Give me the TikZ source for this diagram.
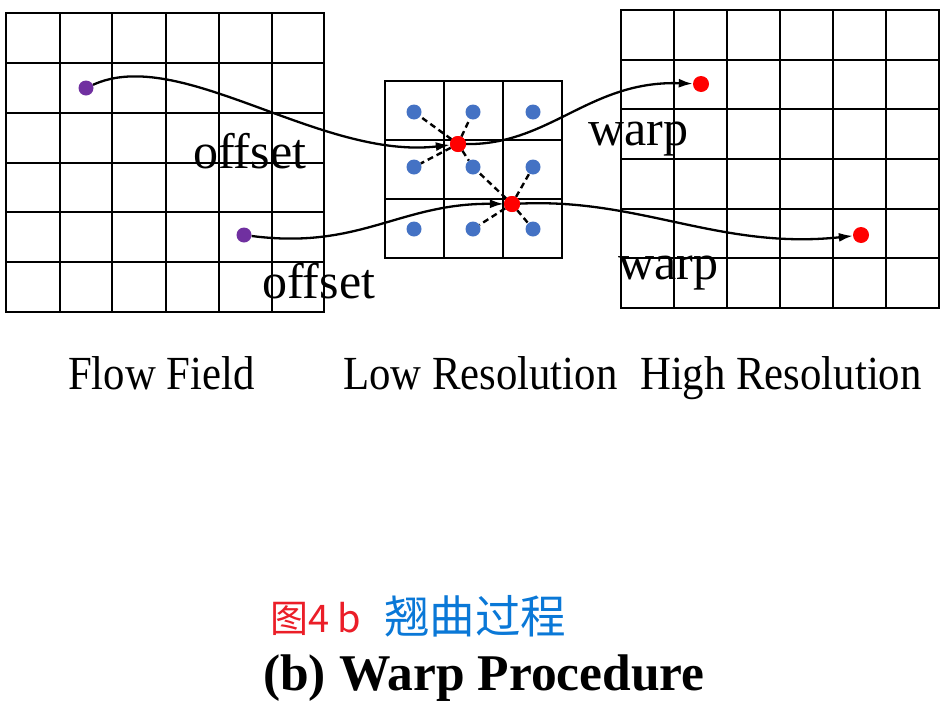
\documentclass[tikz,border=0pt]{standalone}
\usepackage{fontspec}
\setmainfont{Liberation Serif}
\newfontfamily\cjk{Noto Sans CJK SC}
\usetikzlibrary{arrows.meta}
\definecolor{dotpurple}{RGB}{112,48,160}
\definecolor{dotblue}{RGB}{68,114,196}
\definecolor{dotred}{RGB}{255,0,0}
\definecolor{cnred}{RGB}{235,30,40}
\definecolor{cnblue}{RGB}{10,120,215}
\begin{document}
\begin{tikzpicture}[x=1pt,y=-1pt,
  gridline/.style={line width=2.5pt,line cap=rect},
  dotp/.style={circle,fill=dotpurple,inner sep=0pt,minimum size=15pt},
  dotb/.style={circle,fill=dotblue,inner sep=0pt,minimum size=15pt},
  dotr/.style={circle,fill=dotred,inner sep=0pt,minimum size=16pt},
  flowline/.style={line width=2.3pt,-{Latex[length=14pt,width=9pt]}},
  dashline/.style={line width=2.4pt,dash pattern=on 6pt off 4pt},
  lbl/.style={inner sep=0pt,anchor=base west,font=\fontsize{50}{60}\selectfont},
  caplbl/.style={inner sep=0pt,anchor=base west,xscale=0.9,font=\fontsize{47.5}{56}\selectfont}]
\useasboundingbox (0,0) rectangle (949,715);
\fill[white] (0,0) rectangle (949,715);
% left grid
\foreach \x in {6,60,112,166,219,272,324} \draw[gridline] (\x,13) -- (\x,312);
\foreach \y in {13,63,113,163,212,262,312} \draw[gridline] (6,\y) -- (324,\y);
% middle grid
\foreach \x in {385,444,503,562} \draw[gridline] (\x,81) -- (\x,258);
\foreach \y in {81,140,199,258} \draw[gridline] (385,\y) -- (562,\y);
% right grid
\foreach \x in {621,674,727,780,833,886,939} \draw[gridline] (\x,10) -- (\x,308);
\foreach \y in {10,60,109,159,209,258,308} \draw[gridline] (621,\y) -- (939,\y);
% dots
\node[dotp] (p1) at (86,88) {};
\node[dotp] (p2) at (244,235) {};
\node[dotb] (b11) at (414,112) {};
\node[dotb] (b12) at (473,112) {};
\node[dotb] (b13) at (533,112) {};
\node[dotb] (b21) at (414,167) {};
\node[dotb] (b22) at (473,167) {};
\node[dotb] (b23) at (533,167) {};
\node[dotb] (b31) at (414,229) {};
\node[dotb] (b32) at (473,229) {};
\node[dotb] (b33) at (533,229) {};
\node[dotr] (r1) at (458,144) {};
\node[dotr] (r2) at (512,204) {};
\node[dotr] (h1) at (701,84) {};
\node[dotr] (h2) at (861,235) {};
% dashed sampling lines
\foreach \b in {b11,b12,b21,b22} \draw[dashline] (r1) -- (\b);
\foreach \b in {b22,b23,b32,b33} \draw[dashline] (r2) -- (\b);
% curves
\draw[flowline] (p1) .. controls (180,45) and (320,160) .. (r1);
\draw[flowline] (p2) .. controls (360,250) and (400,203) .. (r2);
\draw[flowline] (r1) .. controls (550,145) and (590,80) .. (h1);
\draw[flowline] (r2) .. controls (640,198) and (720,250) .. (h2);
% redraw red dots on top
\node[dotr] at (r1) {};
\node[dotr] at (r2) {};
% labels
\node[lbl] (off1) at (193,168) {offset};
\node[lbl] (off2) at (262,298) {offset};
\node[lbl] (warp1) at (588,145) {warp};
\node[lbl] (warp2) at (618,279) {warp};
\node[caplbl] (capA) at (68,389) {Flow Field};
\node[caplbl] (capB) at (343,389) {Low Resolution};
\node[caplbl] (capC) at (640,389) {High Resolution};
\node[inner sep=0pt,anchor=base west,text=cnred,font=\cjk\fontsize{38}{46}\selectfont] (cnA) at (270,632) {图4 b};
\node[inner sep=0pt,anchor=base west,text=cnblue,font=\cjk\fontsize{45.5}{54}\selectfont] (cnB) at (384,633) {翘曲过程};
\node[inner sep=0pt,anchor=base west,font=\bfseries\fontsize{51.5}{60}\selectfont] (title) at (263,690) {(b) Warp Procedure};
\end{tikzpicture}
\end{document}
